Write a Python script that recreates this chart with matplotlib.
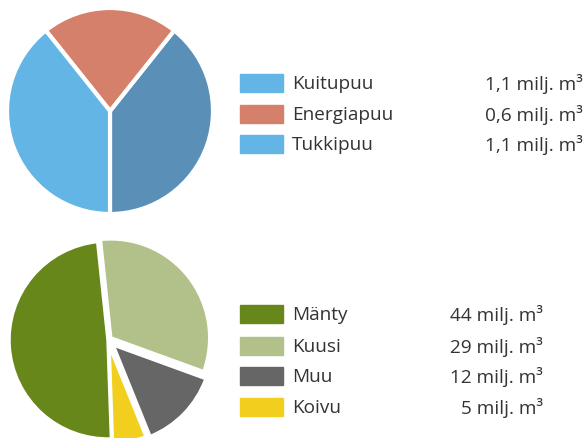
import matplotlib.pyplot as plt
from matplotlib.patches import Rectangle

# top pie: wood types
wood_labels = ["Kuitupuu", "Energiapuu", "Tukkipuu"]
wood_values = [1.1, 0.6, 1.1]
wood_value_text = ["1,1 milj. m³", "0,6 milj. m³", "1,1 milj. m³"]
wood_pie_colors = ["#5a8fb8", "#d4806a", "#62b5e5"]
wood_legend_colors = ["#62b5e5", "#d4806a", "#62b5e5"]

# bottom pie: tree species
tree_labels = ["Mänty", "Kuusi", "Muu", "Koivu"]
tree_values = [44, 29, 12, 5]
tree_value_text = ["44 milj. m³", "29 milj. m³", "12 milj. m³", "5 milj. m³"]
tree_colors = ["#67871a", "#b2c18a", "#666666", "#f2cf1f"]

W, H = 585, 439
fig = plt.figure(figsize=(W / 100, H / 100), dpi=100)
plt.rcParams['font.family'] = ['Open Sans', 'DejaVu Sans']


def pie_axes(cx, cy, r, lim=1.2):
    half = r * lim
    ax = fig.add_axes([(cx - half) / W, (H - cy - half) / H, 2 * half / W, 2 * half / H])
    ax.axis('off')
    return ax


ax1 = pie_axes(110, 112, 103)
ax1.pie(wood_values, colors=wood_pie_colors, startangle=270,
        wedgeprops=dict(edgecolor='white', linewidth=3))
ax1.set_xlim(-1.2, 1.2)
ax1.set_ylim(-1.2, 1.2)

ax2 = pie_axes(108, 341, 99)
wedges, _ = ax2.pie(tree_values, colors=tree_colors, startangle=272, counterclock=False,
                    explode=[0, 0.035, 0.07, 0.05],
                    wedgeprops=dict(edgecolor='white', linewidth=2.5))
for w in wedges:
    w.set_clip_on(False)
ax2.set_xlim(-1.2, 1.2)
ax2.set_ylim(-1.2, 1.2)

txt = "#333333"


def legend_rows(ys, labels, colors, values, xr):
    for y, lab, c, v in zip(ys, labels, colors, values):
        fig.patches.append(Rectangle((240 / W, (H - y - 9) / H), 43 / W, 18 / H,
                                     transform=fig.transFigure, color=c))
        fig.text(292 / W, (H - y) / H, lab, fontsize=13.7, color=txt, va='center', ha='left')
        fig.text(xr / W, (H - y) / H, v, fontsize=13.7, color=txt, va='center', ha='right')


legend_rows([84, 115, 145], wood_labels, wood_legend_colors, wood_value_text, 583)
legend_rows([315, 347, 377, 408], tree_labels, tree_colors, tree_value_text, 543)

fig.savefig("out.png", dpi=100)
